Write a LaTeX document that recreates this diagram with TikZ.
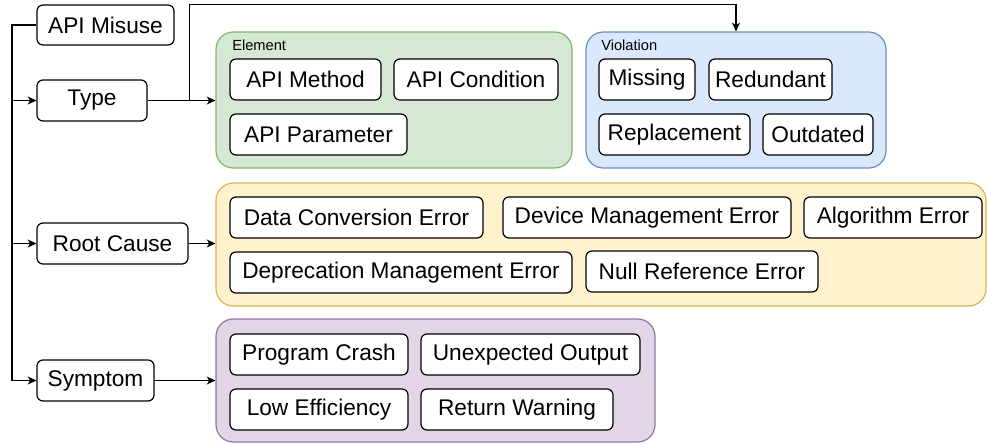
\documentclass[tikz,border=0pt]{standalone}
\usepackage{fontspec}
\setmainfont{Liberation Sans}
\usetikzlibrary{arrows.meta,calc}

\definecolor{grfill}{HTML}{D5E8D4}\definecolor{grline}{HTML}{82B366}
\definecolor{blfill}{HTML}{DAE8FC}\definecolor{blline}{HTML}{6C8EBF}
\definecolor{yefill}{HTML}{FFF2CC}\definecolor{yeline}{HTML}{D6B656}
\definecolor{pufill}{HTML}{E1D5E7}\definecolor{puline}{HTML}{9673A6}

\tikzset{
  % span={x1}{y1}{x2}{y2}: place a node over the given corner coordinates
  span/.style n args={4}{
    at={({(#1+#3)/2},{(#2+#4)/2})},
    minimum width={(#3-#1)*0.75pt}, minimum height={(#4-#2)*0.75pt}},
  box/.style={draw=black, fill=white, line width=0.9pt, rounded corners=4.5pt,
    inner sep=0pt, font=\fontsize{17}{20}\selectfont},
  group/.style={line width=0.9pt, rounded corners=13pt, inner sep=0pt},
  grouplabel/.style={anchor=west, inner sep=0pt, font=\fontsize{11}{13}\selectfont},
  link/.style={line width=0.9pt, -{Stealth[length=6.5pt,width=6pt,inset=1.8pt]}},
  plain/.style={line width=0.9pt}
}

\begin{document}
\begin{tikzpicture}[x=0.75pt,y=-0.75pt]
\useasboundingbox (0,0) rectangle (987,443);

% category groups
\node[group, draw=grline, fill=grfill, span={216}{32}{572}{168}] (elem) {};
\node[group, draw=blline, fill=blfill, span={586}{32}{886}{168}] (viol) {};
\node[group, draw=yeline, fill=yefill, span={216}{183}{986}{306}] (rootc) {};
\node[group, draw=puline, fill=pufill, span={216}{319}{655}{442}] (symc) {};
\node[grouplabel] (elemlbl) at (232,45) {Element};
\node[grouplabel] (viollbl) at (601,45) {Violation};

% main dimensions
\node[box, span={37}{5}{174}{45}] (misuse) {API Misuse};
\node[box, span={37}{80}{147}{121}] (type) {Type};
\node[box, span={37}{223}{188}{264}] (root) {Root Cause};
\node[box, span={37}{360}{154}{401}] (symptom) {Symptom};

% element items
\node[box, span={230}{59}{381}{100}] (apimethod) {API Method};
\node[box, span={394}{59}{558}{100}] (apicond) {API Condition};
\node[box, span={230}{114}{407}{155}] (apiparam) {API Parameter};

% violation items
\node[box, span={599}{59}{695}{100}] (missing) {Missing};
\node[box, span={709}{59}{832}{100}] (redundant) {Redundant};
\node[box, span={599}{114}{750}{155}] (replacement) {Replacement};
\node[box, span={763}{114}{873}{155}] (outdated) {Outdated};

% root cause items
\node[box, span={230}{197}{483}{238}] (dataconv) {Data Conversion Error};
\node[box, span={503}{197}{791}{238}] (devmgmt) {Device Management Error};
\node[box, span={804}{197}{982}{238}] (algo) {Algorithm Error};
\node[box, span={230}{252}{572}{293}] (deprec) {Deprecation Management Error};
\node[box, span={586}{251}{818}{292}] (nullref) {Null Reference Error};

% symptom items
\node[box, span={230}{334}{408}{375}] (crash) {Program Crash};
\node[box, span={421}{334}{640}{375}] (unexp) {Unexpected Output};
\node[box, span={230}{389}{408}{430}] (loweff) {Low Efficiency};
\node[box, span={421}{389}{613}{430}] (retwarn) {Return Warning};

% trunk on the left
\coordinate (trunk) at (12,25);
\draw[plain] (misuse.west) -- (trunk) -- (trunk |- symptom.west);
\draw[link] (trunk |- type.west) -- (type.west);
\draw[link] (trunk |- root.west) -- (root.west);
\draw[link] (trunk |- symptom.west) -- (symptom.west);

% dimension to group connectors
\draw[link] (type.east) -- (type.east -| elem.west);
\draw[link] (root.east) -- (root.east -| rootc.west);
\draw[link] (symptom.east) -- (symptom.east -| symc.west);

% branch from Type over the top to Violation
\coordinate (branch) at ($(type.east)+(42,0)$);
\coordinate (over) at (viol.north |- misuse.north);
\draw[link] (branch) |- (over) -- (viol.north);
\end{tikzpicture}
\end{document}
